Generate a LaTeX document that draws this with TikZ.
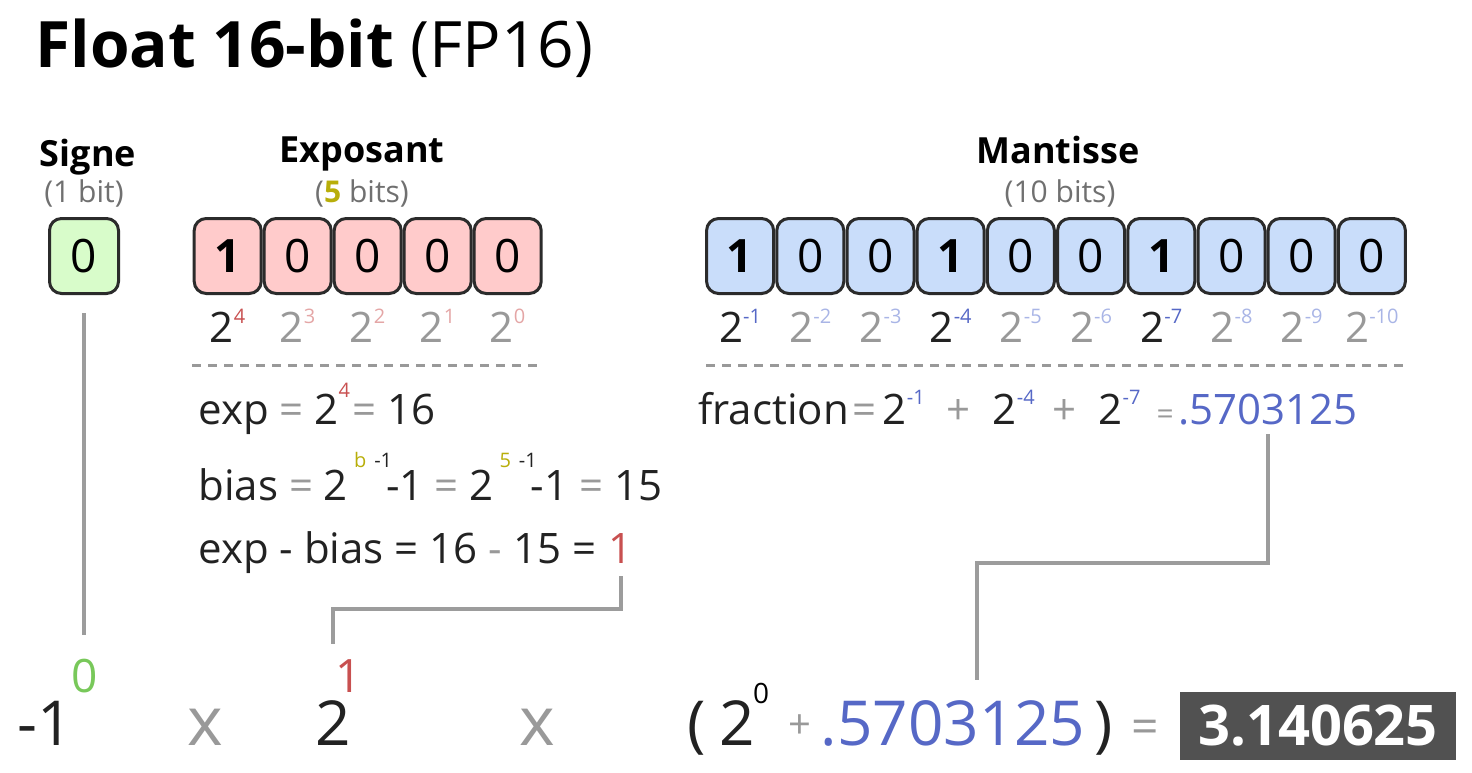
\documentclass[tikz,border=0pt]{standalone}
\usepackage{fontspec}
\setmainfont{Open Sans}
\usetikzlibrary{positioning}

\definecolor{ink}{HTML}{222222}
\definecolor{bitline}{HTML}{2B2B2B}
\definecolor{signfill}{HTML}{D8FCCA}
\definecolor{expfill}{HTML}{FFCBCB}
\definecolor{manfill}{HTML}{C9DDFA}
\definecolor{expred}{HTML}{C85050}
\definecolor{explight}{HTML}{E4A6A6}
\definecolor{manblue}{HTML}{5668C6}
\definecolor{manlight}{HTML}{A9B5E6}
\definecolor{olive}{HTML}{B8AE0A}
\definecolor{signgreen}{HTML}{78C85A}
\definecolor{opgray}{HTML}{999999}
\definecolor{subgray}{HTML}{707070}
\definecolor{linkgray}{HTML}{9C9C9C}
\definecolor{resgray}{HTML}{515151}

\newcommand\gr[1]{{\color{opgray}#1}}
\newcommand\up[3]{\raisebox{#1}{\fontsize{10}{10}\selectfont\color{#2}#3}}

\begin{document}
\begin{tikzpicture}[x=0.5pt, y=-0.5pt,
    bit/.style={draw=bitline, line width=1.5pt, rounded corners=6pt, minimum width=33.5pt, minimum height=37.5pt, inner sep=0pt, text=black, font=\fontsize{23}{23}\selectfont},
    head/.style={font=\fontsize{18}{18}\selectfont\bfseries, anchor=base, inner sep=0pt},
    sub/.style={font=\fontsize{15}{15}\selectfont, text=subgray, anchor=base, inner sep=0pt},
    pow/.style={font=\fontsize{21}{21}\selectfont, anchor=base, inner sep=0pt},
    formula/.style={font=\fontsize{21}{21}\selectfont, text=ink, anchor=base west, inner sep=0pt},
    big/.style={font=\fontsize{31}{31}\selectfont, text=ink, anchor=base, inner sep=0pt},
    bigsup/.style={font=\fontsize{23}{23}\selectfont, anchor=base, inner sep=0pt},
    link/.style={draw=linkgray, line width=2pt},
    sep/.style={draw=opgray, line width=1.5pt, dash pattern=on 4.5pt off 3.5pt}]
  \useasboundingbox (0,0) rectangle (1472,772);

  % title
  \node[anchor=base west, inner sep=0pt, font=\fontsize{32}{32}\selectfont] (title) at (35,67)
    {\bfseries Float 16-bit \mdseries(FP16)};

  % field headers
  \node[head] (hsign) at (88,166) {Signe};
  \node[sub] (ssign) at (84,202) {(1 bit)};
  \node[head] (hexp) at (362,162) {Exposant};
  \node[sub] (sexp) at (362,202) {({\bfseries\color{olive}5} bits)};
  \node[head] (hman) at (1058,163) {Mantisse};
  \node[sub] (sman) at (1060,202) {(10 bits)};

  % bits
  \node[bit, fill=signfill, minimum width=34.5pt] (sgn) at (84,256) {0};
  \foreach \v [count=\i] in {1,0,0,0,0}
    \node[bit, fill=expfill] (eb\i) at ({157.7+70*\i},256) {\ifnum\v=1 \bfseries\fi\v};
  \foreach \v [count=\i] in {1,0,0,1,0,0,1,0,0,0}
    \node[bit, fill=manfill] (mb\i) at ({669.9+70.2*\i},256) {\ifnum\v=1 \bfseries\fi\v};

  % weights
  \coordinate (prow) at (0,342);
  \foreach \k/\c/\s [count=\i] in {4/ink/expred,3/opgray/explight,2/opgray/explight,1/opgray/explight,0/opgray/explight}
    \node[pow, text=\c] (ep\i) at (eb\i |- prow) {2\up{9.5pt}{\s}{\k}};
  \foreach \k/\c/\s [count=\i] in {-1/ink/manblue,-2/opgray/manlight,-3/opgray/manlight,-4/ink/manblue,-5/opgray/manlight,-6/opgray/manlight,-7/ink/manblue,-8/opgray/manlight,-9/opgray/manlight,-10/opgray/manlight}
    \node[pow, text=\c] (mp\i) at (mb\i |- prow) {2\up{9.5pt}{\s}{\k}};

  \draw[sep] (192,365) -- (543,365);
  \draw[sep] (706,365) -- (1404,365);

  % exponent
  \node[formula] (fexp) at (198,424) {exp \gr{=} 2\up{13.5pt}{expred}{4}\hspace{1pt}\gr{=} 16};
  \node[formula] (fbias) at (198,500) {bias \gr{=} 2\hspace{3pt}\up{16.5pt}{olive}{b}\hspace{4pt}\up{16.5pt}{ink}{-1}\hspace{-3pt}-1 \gr{=} 2\hspace{3pt}\up{16.5pt}{olive}{5}\hspace{4pt}\up{16.5pt}{ink}{-1}\hspace{-3pt}-1 \gr{=} 15};
  \node[formula] (fdiff) at (198,563) {exp - bias = 16 \gr{-} 15 =};
  \node[formula, text=expred] (res1) at ([xshift=6pt]fdiff.base east) {1};

  % mantissa
  \node[formula] (ffrac) at (698,424) {fraction\hspace{2pt}\gr{=}\hspace{3pt}2\up{10pt}{manblue}{-1}\hspace{11pt}\gr{+}\hspace{11pt}2\up{10pt}{manblue}{-4}\hspace{9pt}\gr{+}\hspace{11pt}2\up{10pt}{manblue}{-7}\hspace{8pt}{\fontsize{15}{15}\selectfont\gr{=}}};
  \node[formula, text=manblue] (fracval) at ([xshift=2pt]ffrac.base east) {.5703125};

  % result line
  \node[big] (neg) at (45,745) {-1};
  \node[bigsup, text=signgreen] (pow0) at (85,692) {0};
  \node[big, font=\fontsize{34}{34}\selectfont, text=opgray] (x1) at (205,745) {x};
  \node[big] (b2) at (333,745) {2};
  \node[bigsup, text=expred] (pow1) at (349,692) {1};
  \node[big, font=\fontsize{34}{34}\selectfont, text=opgray] (x2) at (537,745) {x};
  \node[big] (lp) at (697,745) {(};
  \node[big] (b2m) at (737,745) {2};
  \node[anchor=base, inner sep=0pt, font=\fontsize{14}{14}\selectfont, text=black] (z0) at (761,703) {0};
  \node[anchor=base, inner sep=0pt, font=\fontsize{20}{20}\selectfont, text=opgray] (plus) at (800,738) {+};
  \node[big, text=manblue] (bval) at (953,745) {.5703125};
  \node[big] (rp) at (1104,745) {)};
  \node[anchor=base, inner sep=0pt, font=\fontsize{24}{24}\selectfont, text=opgray] (eq) at (1145,743) {=};
  \node[fill=resgray, text=white, font=\fontsize{28}{28}\selectfont\bfseries, minimum width=138pt, minimum height=34pt, inner sep=0pt] (res) at (1318,726) {3.140625};

  % links
  \coordinate (ebend) at (0,609);
  \coordinate (mbend) at (0,563);
  \coordinate (mtarget) at ([xshift=12pt]bval.north);
  \draw[link, shorten <=9pt, shorten >=11.5pt] (sgn.south) -- (pow0.north -| sgn.south);
  \draw[link, shorten <=6.5pt, shorten >=7.5pt] (res1.south) |- (ebend -| b2) -- (b2 |- pow1.north);
  \draw[link, shorten <=4.5pt, shorten >=10pt] (fracval.south) |- (mbend -| mtarget) -- (mtarget);
\end{tikzpicture}
\end{document}
